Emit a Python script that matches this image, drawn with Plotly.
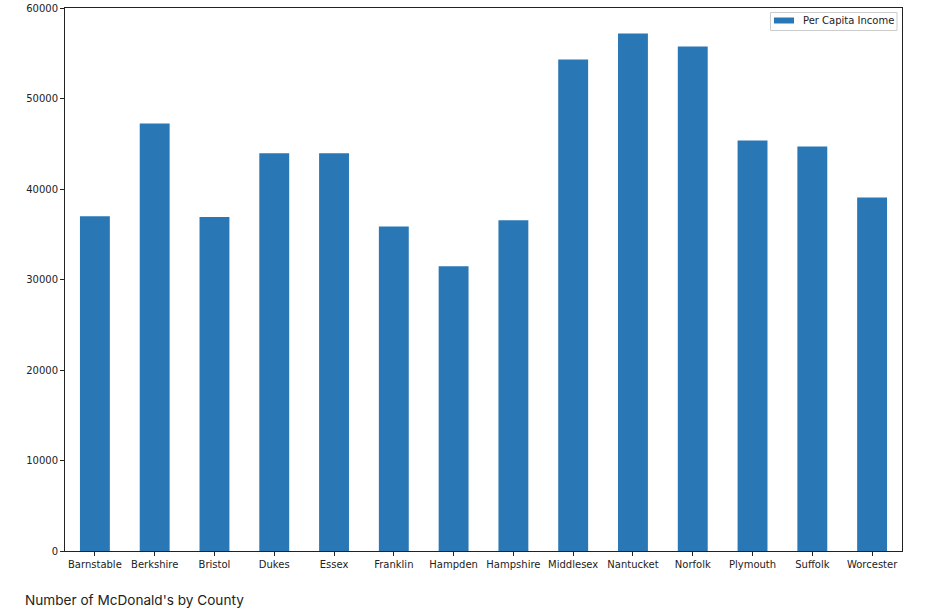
import plotly.graph_objects as go

counties = ["Barnstable", "Berkshire", "Bristol", "Dukes", "Essex", "Franklin", "Hampden",
            "Hampshire", "Middlesex", "Nantucket", "Norfolk", "Plymouth", "Suffolk", "Worcester"]
income = [37000, 47250, 36900, 43950, 43950, 35870, 31460,
          36550, 54300, 57170, 55750, 45370, 44700, 39070]
y_ticks = [0, 10000, 20000, 30000, 40000, 50000, 60000]
series_name = "Per Capita Income"
bar_color = "#2977b5"

W, H = 935, 613
L, R, T, B = 65, 33, 8, 62
pw, ph = W - L - R, H - T - B


def px_x(x):
    return (x - L) / pw


def px_y(y):
    return (H - B - y) / ph


fig = go.Figure()
fig.add_trace(go.Bar(x=counties, y=income, name=series_name,
                     marker=dict(color=bar_color, line=dict(width=0)),
                     showlegend=False))

axis_common = dict(showline=True, linecolor="#222222", linewidth=1, mirror=True,
                   ticks="outside", ticklen=4, tickcolor="#222222", showgrid=False,
                   zeroline=False, automargin=False,
                   tickfont=dict(family="DejaVu Sans", size=10, color="#222222"))

# legend drawn as box + swatch + label
shapes = [
    dict(type="rect", xref="paper", yref="paper",
         x0=px_x(770.5), x1=px_x(897), y0=px_y(30.5), y1=px_y(12.5),
         line=dict(color="#cccccc", width=1), fillcolor="white", layer="above"),
    dict(type="rect", xref="paper", yref="paper",
         x0=px_x(774), x1=px_x(794), y0=px_y(23.5), y1=px_y(17.5),
         line=dict(width=0), fillcolor=bar_color, layer="above"),
]

fig.update_layout(
    width=W, height=H,
    margin=dict(l=L, r=R, t=T, b=B),
    paper_bgcolor="white", plot_bgcolor="white",
    bargap=0.5,
    xaxis=dict(range=[-0.5, 13.5], **axis_common),
    yaxis=dict(range=[0, 60000], tickvals=y_ticks, ticktext=[str(v) for v in y_ticks], **axis_common),
    showlegend=False,
    shapes=shapes,
    annotations=[
        dict(text="Number of McDonald's by County", xref="paper", yref="paper",
             x=px_x(23), y=px_y(600), xanchor="left", yanchor="middle", showarrow=False,
             font=dict(family="Inter", size=13.6, color="#222222")),
        dict(text=series_name, xref="paper", yref="paper",
             x=px_x(801), y=px_y(20.5), xanchor="left", yanchor="middle", showarrow=False,
             font=dict(family="DejaVu Sans", size=10, color="#222222")),
    ],
)

fig.write_html("out.html")
